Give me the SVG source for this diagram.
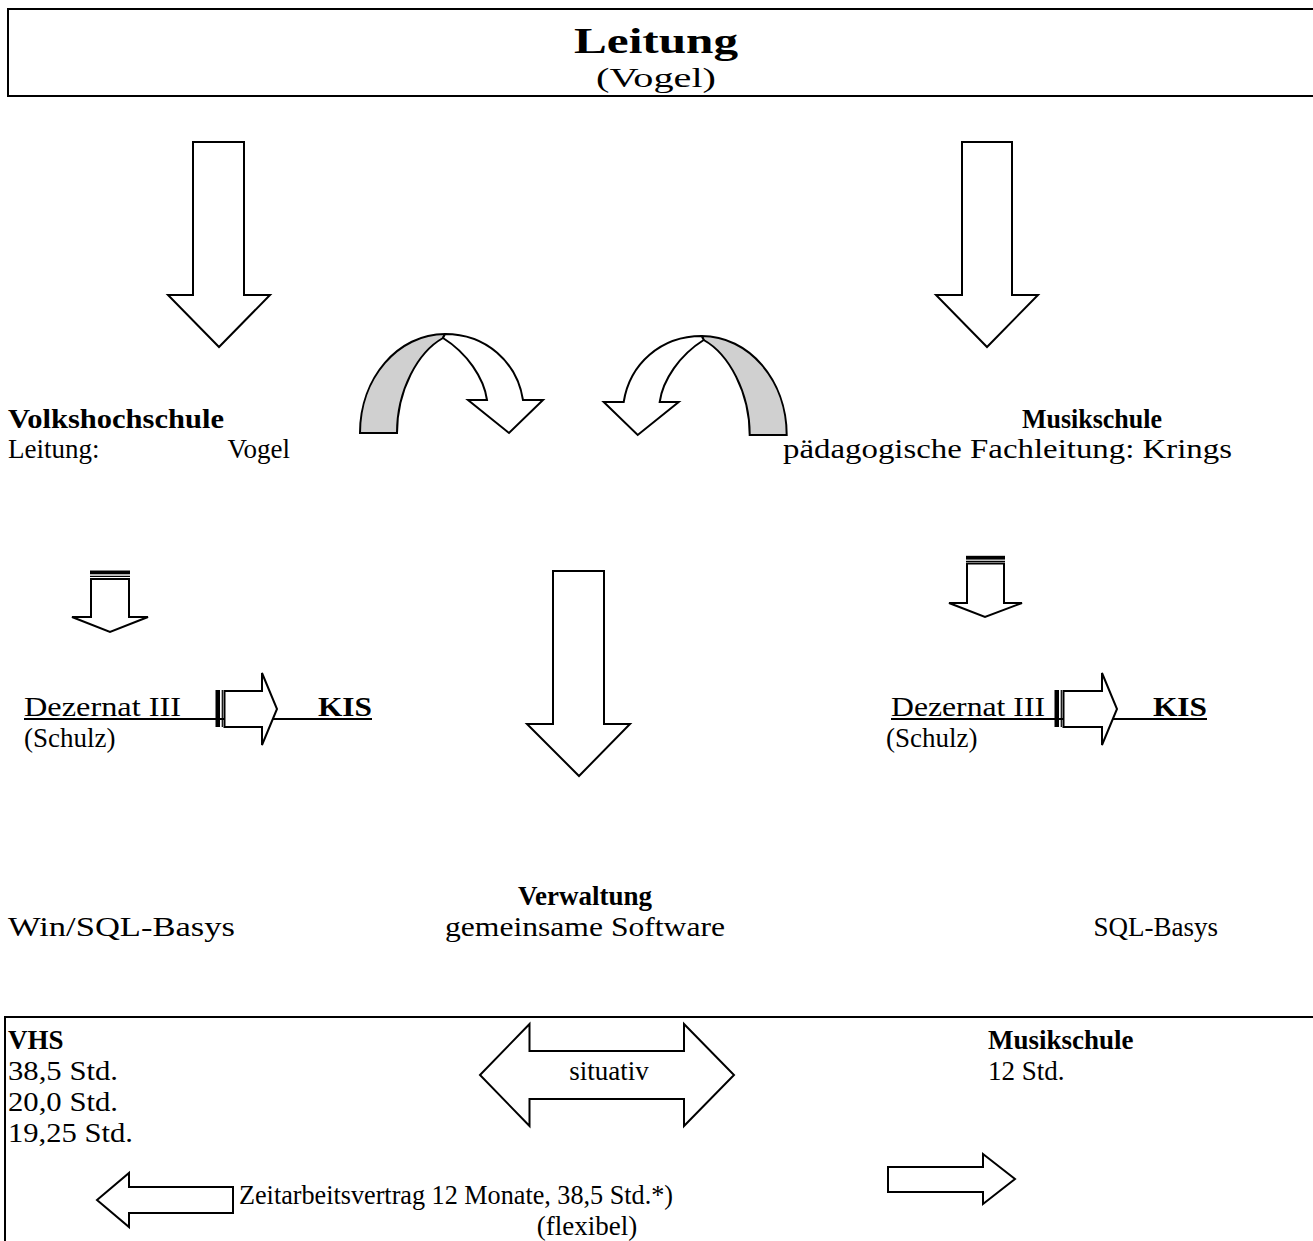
<svg xmlns="http://www.w3.org/2000/svg" width="1313" height="1241" viewBox="0 0 1313 1241">
<style>
text{font-family:"Liberation Serif","Times New Roman",serif;font-size:27px;fill:#000}
.b{font-weight:bold}
.ar{fill:#fff;stroke:#000;stroke-width:2;stroke-linejoin:miter}
.bx{fill:none;stroke:#000;stroke-width:2}
.ln{stroke:#000;stroke-width:2}
.gray{fill:#d0d0d0;stroke:#000;stroke-width:2}
</style>
<rect width="1313" height="1241" fill="#fff"/>
<defs>
<g id="curve">
<path class="gray" d="M360,433 C360,378 398,334 445,334 L443,338 C418,352 397,390 397,433 Z"/>
<path class="ar" d="M443,338 C467,353 484,378 487,400 L468,400 L509,433 L543,400 L523,400 C517,362 486,334 445,334 Z"/>
</g>
</defs>

<g id="leitung">
<path class="bx" d="M1313,9 H8 V96 H1313"/>
<text class="b" x="574" y="53" style="font-size:36px" textLength="164" lengthAdjust="spacingAndGlyphs">Leitung</text>
<text x="596" y="87" textLength="120" lengthAdjust="spacingAndGlyphs">(Vogel)</text>
</g>

<g id="vhs">
<text class="b" x="8" y="428" textLength="216" lengthAdjust="spacingAndGlyphs">Volkshochschule</text>
<text x="8" y="458">Leitung:</text>
<text x="290" y="458" text-anchor="end">Vogel</text>
</g>

<g id="musikschule">
<text class="b" x="1022" y="428" textLength="140" lengthAdjust="spacingAndGlyphs">Musikschule</text>
<text x="783" y="458" textLength="449" lengthAdjust="spacingAndGlyphs">pädagogische Fachleitung: Krings</text>
</g>

<g id="dezernat-left">
<line class="ln" x1="24" y1="719" x2="372" y2="719"/>
<text x="24" y="716" textLength="157" lengthAdjust="spacingAndGlyphs">Dezernat III</text>
<text class="b" x="318" y="716" textLength="54" lengthAdjust="spacingAndGlyphs">KIS</text>
<text x="24" y="747">(Schulz)</text>
</g>

<g id="dezernat-right">
<line class="ln" x1="891" y1="719" x2="1207" y2="719"/>
<text x="891" y="716" textLength="154" lengthAdjust="spacingAndGlyphs">Dezernat III</text>
<text class="b" x="1153" y="716" textLength="54" lengthAdjust="spacingAndGlyphs">KIS</text>
<text x="886" y="747">(Schulz)</text>
</g>

<g id="verwaltung">
<text class="b" x="585" y="905" text-anchor="middle">Verwaltung</text>
<text x="445" y="936" textLength="280" lengthAdjust="spacingAndGlyphs">gemeinsame Software</text>
</g>
<g id="win-sql"><text x="8" y="936" textLength="227" lengthAdjust="spacingAndGlyphs">Win/SQL-Basys</text></g>
<g id="sql"><text x="1218" y="936" text-anchor="end">SQL-Basys</text></g>

<g id="personal">
<path class="bx" d="M1313,1017 H5 V1241"/>
<text class="b" x="8" y="1049">VHS</text>
<text x="8" y="1080" textLength="110" lengthAdjust="spacingAndGlyphs">38,5 Std.</text>
<text x="8" y="1111" textLength="110" lengthAdjust="spacingAndGlyphs">20,0 Std.</text>
<text x="8" y="1142" textLength="125" lengthAdjust="spacingAndGlyphs">19,25 Std.</text>
<text class="b" x="988" y="1049">Musikschule</text>
<text x="988" y="1080">12 Std.</text>
<text x="239" y="1204" textLength="434" lengthAdjust="spacingAndGlyphs">Zeitarbeitsvertrag 12 Monate, 38,5 Std.*)</text>
<text x="587" y="1235" text-anchor="middle">(flexibel)</text>
</g>

<g id="connectors">
<polygon class="ar" points="193,142 244,142 244,295 270,295 219,347 168,295 193,295"/>
<polygon class="ar" points="962,142 1012,142 1012,295 1038,295 987,347 936,295 962,295"/>
<polygon class="ar" points="553,571 604,571 604,724 630,724 579,776 527,724 553,724"/>
<use href="#curve"/>
<use href="#curve" transform="matrix(-1,0,0,1,1146.7,2)"/>
<rect x="90" y="570.5" width="40" height="3.8" fill="#000"/>
<line x1="90" y1="576.3" x2="130" y2="576.3" stroke="#000" stroke-width="1.2"/>
<polygon class="ar" points="91,579 129,579 129,617 148,617 110,632 72,617 91,617"/>
<rect x="966" y="555.8" width="39" height="3.8" fill="#000"/>
<line x1="966" y1="561.3" x2="1005" y2="561.3" stroke="#000" stroke-width="1.2"/>
<polygon class="ar" points="967,563.5 1004,563.5 1004,603 1022,603 985,617 949,603 967,603"/>
<rect x="215.5" y="690" width="4.5" height="37" fill="#000"/>
<line x1="222.3" y1="690" x2="222.3" y2="727" stroke="#000" stroke-width="1.2"/>
<polygon class="ar" points="224.5,691 262,691 262,673 277,709 262,745 262,727 224.5,727"/>
<rect x="1054.5" y="690" width="4.5" height="37" fill="#000"/>
<line x1="1061.3" y1="690" x2="1061.3" y2="727" stroke="#000" stroke-width="1.2"/>
<polygon class="ar" points="1063.5,691 1102,691 1102,673 1117,709 1102,745 1102,727 1063.5,727"/>
<polygon class="ar" points="480,1075 529.5,1024 529.5,1051 684,1051 684,1024 734,1075 684,1126 684,1099 529.5,1099 529.5,1126"/>
<polygon class="ar" points="97,1200 129,1173 129,1187 233,1187 233,1213 129,1213 129,1227"/>
<polygon class="ar" points="888,1167 983,1167 983,1154 1015,1179 983,1204 983,1192 888,1192"/>
</g>
<text x="609" y="1080" text-anchor="middle">situativ</text>
</svg>
